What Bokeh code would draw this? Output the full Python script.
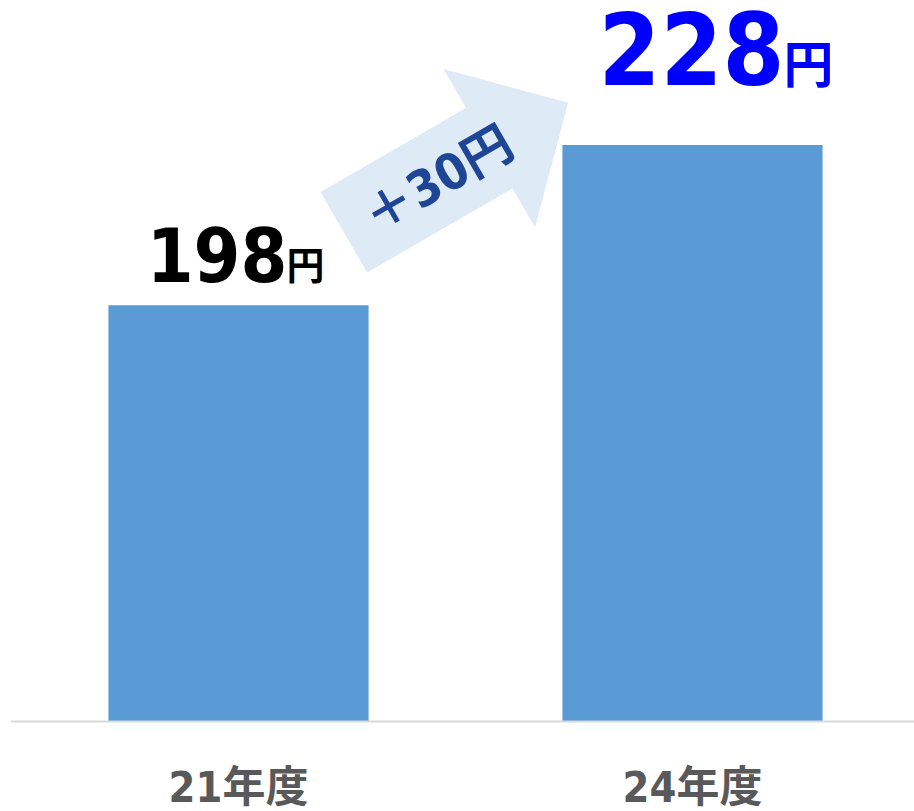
import math

from bokeh.core.properties import value
from bokeh.embed import file_html
from bokeh.models import ColumnDataSource, Range1d, Span
from bokeh.plotting import figure
from bokeh.resources import INLINE

# --- data -----------------------------------------------------------------
categories = ["21年度", "24年度"]
prices = [198, 228]
unit = "円"

# --- layout constants -------------------------------------------------------
W, H = 914, 811
LEFT = 10
BASE = 120                      # value at the baseline of the bars
PX_PER_UNIT = 5.338             # vertical scale
BASE_PX = 721                   # screen row of the baseline
Y_START = BASE - (H - BASE_PX) / PX_PER_UNIT
Y_END = BASE + BASE_PX / PX_PER_UNIT
X_START, X_END = -0.5022, 1.489

BAR_COLOR = "#5B9BD5"
ARROW_FILL = "#DEEAF6"
ARROW_TEXT = "#1F4597"
DIGIT_FONT = "DejaVu Sans Condensed, DejaVu Sans, Noto Sans CJK JP"
CJK_FONT = "Noto Sans CJK JP"

frame_w = W - LEFT
frame_h = H


def px_to_x(px):
    return X_START + (px - LEFT) / frame_w * (X_END - X_START)


def py_to_y(py):
    return Y_START + (frame_h - py) / frame_h * (Y_END - Y_START)


xs = list(range(len(categories)))

p = figure(
    width=W, height=H,
    x_range=Range1d(X_START, X_END), y_range=Range1d(Y_START, Y_END),
    output_backend="svg", toolbar_location=None,
    min_border_left=LEFT, min_border_right=0, min_border_top=0,
    min_border_bottom=0,
)
p.outline_line_color = None
p.xgrid.visible = False
p.ygrid.visible = False
p.xaxis.visible = False
p.yaxis.visible = False
p.background_fill_color = "white"
p.border_fill_color = "white"

# bars
src = ColumnDataSource(dict(x=xs, top=prices))
p.vbar(x="x", top="top", bottom=BASE, width=0.573, source=src,
       fill_color=BAR_COLOR, line_color=None)

# baseline
p.add_layout(Span(location=BASE, dimension="width",
                  line_color="#D9D9D9", line_width=2))

# category names under the baseline
p.text(x=xs, y=[BASE] * len(xs), text=categories, text_align="center",
       text_baseline="middle", y_offset=65,
       text_font=value(DIGIT_FONT), text_font_style="bold",
       text_font_size=value("43px"), text_color="#595959")

# value labels:
# digit size, unit size, colour, x offset, digit baseline, digit dy, unit dy
label_styles = [
    ("75px", "38px", "#000000", 49, "alphabetic", -50.8, -42.5),
    ("99px", "50px", "#0000FF", 92, "top", -133.0, -83.5),
]
for x, v, (dsize, usize, color, dx, dbase, ddy, udy) in zip(xs, prices, label_styles):
    p.text(x=[x], y=[v], text=[str(v)], text_align="right",
           text_baseline=dbase, x_offset=dx, y_offset=ddy,
           text_font=value(DIGIT_FONT), text_font_style="bold",
           text_font_size=value(dsize), text_color=color)
    p.text(x=[x], y=[v], text=[unit], text_align="left",
           text_baseline="alphabetic", x_offset=dx - 1, y_offset=udy,
           text_font=value(CJK_FONT), text_font_style="bold",
           text_font_size=value(usize), text_color=color)

# rising arrow between the two bars (pixel geometry, rotated 30 degrees)
theta = math.radians(30)
tail_cx, tail_cy = 343.3, 231.7
shaft_len, shaft_half = 168, 46.5
head_half, head_len = 91.5, 91
ux, uy = math.cos(theta), -math.sin(theta)   # along the arrow (screen)
nx, ny = math.sin(theta), math.cos(theta)    # across the arrow (screen)
local = [
    (0, -shaft_half), (shaft_len, -shaft_half), (shaft_len, -head_half),
    (shaft_len + head_len, 0), (shaft_len, head_half), (shaft_len, shaft_half),
    (0, shaft_half),
]
arrow_x, arrow_y = [], []
for u, v in local:
    sx = tail_cx + u * ux + v * nx
    sy = tail_cy + u * uy + v * ny
    arrow_x.append(px_to_x(sx))
    arrow_y.append(py_to_y(sy))
p.patch(arrow_x, arrow_y, fill_color=ARROW_FILL, line_color=None)

diff_text = f"＋{prices[1] - prices[0]}{unit}"
tu, tv = 108, 2
p.text(x=[px_to_x(tail_cx + tu * ux + tv * nx)],
       y=[py_to_y(tail_cy + tu * uy + tv * ny)],
       text=[diff_text], angle=30, angle_units="deg",
       text_align="center", text_baseline="middle",
       text_font=value(DIGIT_FONT), text_font_style="bold",
       text_font_size=value("50px"), text_color=ARROW_TEXT)

open("out.html", "w").write(file_html(p, INLINE))
